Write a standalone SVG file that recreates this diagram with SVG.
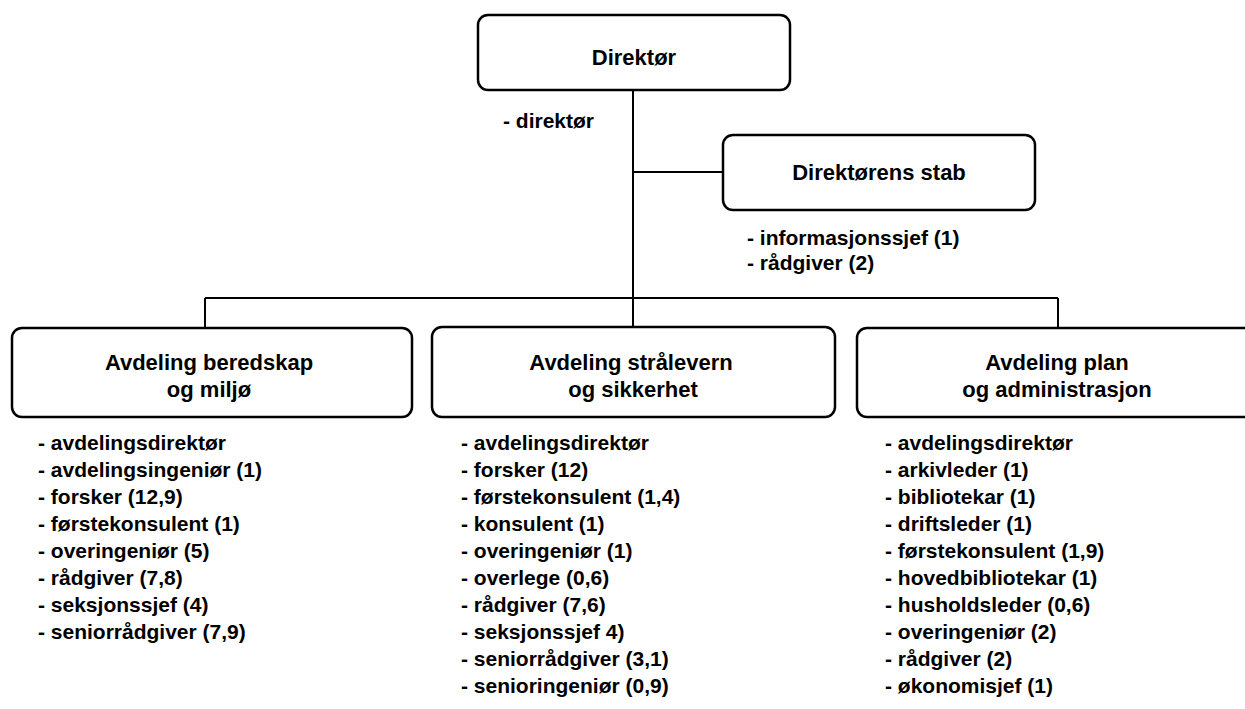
<svg xmlns="http://www.w3.org/2000/svg" width="1245" height="709" viewBox="0 0 1245 709">
<style>
.box{fill:#fff;stroke:#000;stroke-width:2.5}
.ln{fill:none;stroke:#000;stroke-width:2}
.t{font-family:"Liberation Sans",Arial,sans-serif;font-weight:bold;font-size:22px;fill:#000;text-anchor:middle}
.l{font-family:"Liberation Sans",Arial,sans-serif;font-weight:bold;font-size:21px;fill:#000}
</style>
<rect width="1245" height="709" fill="#fff"/>
<g id="connectors">
<path class="ln" d="M633 90V327"/>
<path class="ln" d="M633 172H723"/>
<path class="ln" d="M205 298H1058"/>
<path class="ln" d="M205 298V328"/>
<path class="ln" d="M1058 298V328"/>
</g>
<g id="direktor">
<rect class="box" x="478" y="15" width="312" height="75" rx="10"/>
<text class="t" x="634" y="65">Direktør</text>
<text class="l" x="503" y="128">- direktør</text>
</g>
<g id="stab">
<rect class="box" x="723" y="135" width="312" height="75" rx="10"/>
<text class="t" x="879" y="180">Direktørens stab</text>
<text class="l" x="747" y="245">- informasjonssjef (1)</text>
<text class="l" x="747" y="270">- rådgiver (2)</text>
</g>
<g id="beredskap">
<rect class="box" x="12" y="328" width="400" height="89" rx="10"/>
<text class="t" x="209" y="370">Avdeling beredskap</text>
<text class="t" x="209" y="397">og miljø</text>
<text class="l" x="38" y="450">- avdelingsdirektør</text>
<text class="l" x="38" y="477">- avdelingsingeniør (1)</text>
<text class="l" x="38" y="504">- forsker (12,9)</text>
<text class="l" x="38" y="531">- førstekonsulent (1)</text>
<text class="l" x="38" y="558">- overingeniør (5)</text>
<text class="l" x="38" y="585">- rådgiver (7,8)</text>
<text class="l" x="38" y="612">- seksjonssjef (4)</text>
<text class="l" x="38" y="639">- seniorrådgiver (7,9)</text>
</g>
<g id="stralevern">
<rect class="box" x="432" y="327" width="403" height="90" rx="10"/>
<text class="t" x="631" y="370">Avdeling strålevern</text>
<text class="t" x="633" y="397">og sikkerhet</text>
<text class="l" x="461" y="450">- avdelingsdirektør</text>
<text class="l" x="461" y="477">- forsker (12)</text>
<text class="l" x="461" y="504">- førstekonsulent (1,4)</text>
<text class="l" x="461" y="531">- konsulent (1)</text>
<text class="l" x="461" y="558">- overingeniør (1)</text>
<text class="l" x="461" y="585">- overlege (0,6)</text>
<text class="l" x="461" y="612">- rådgiver (7,6)</text>
<text class="l" x="461" y="639">- seksjonssjef 4)</text>
<text class="l" x="461" y="666">- seniorrådgiver (3,1)</text>
<text class="l" x="461" y="693">- senioringeniør (0,9)</text>
</g>
<g id="plan">
<rect class="box" x="857" y="328" width="400" height="89" rx="10"/>
<text class="t" x="1057" y="370">Avdeling plan</text>
<text class="t" x="1057" y="397">og administrasjon</text>
<text class="l" x="885" y="450">- avdelingsdirektør</text>
<text class="l" x="885" y="477">- arkivleder (1)</text>
<text class="l" x="885" y="504">- bibliotekar (1)</text>
<text class="l" x="885" y="531">- driftsleder (1)</text>
<text class="l" x="885" y="558">- førstekonsulent (1,9)</text>
<text class="l" x="885" y="585">- hovedbibliotekar (1)</text>
<text class="l" x="885" y="612">- husholdsleder (0,6)</text>
<text class="l" x="885" y="639">- overingeniør (2)</text>
<text class="l" x="885" y="666">- rådgiver (2)</text>
<text class="l" x="885" y="693">- økonomisjef (1)</text>
</g>
</svg>
